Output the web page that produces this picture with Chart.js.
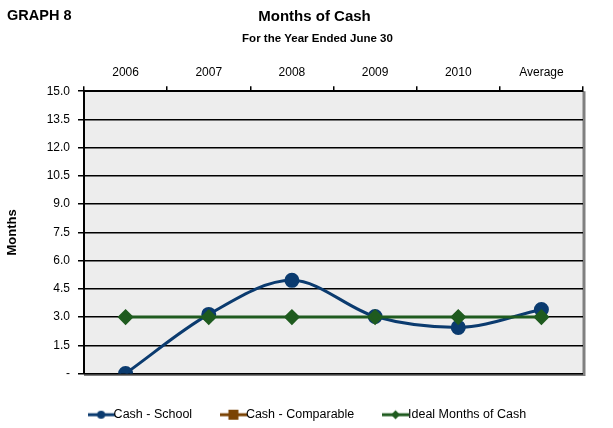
<!DOCTYPE html>
<html lang="en">
<head>
  <meta charset="UTF-8" />
  <title>Months of Cash</title>
  <script src="https://cdn.jsdelivr.net/npm/chart.js@4.4.0/dist/chart.umd.min.js"></script>
  <style>
    body { margin: 0; background: #fff; font-family: 'Liberation Sans', Arial, sans-serif; }
    .wrap { position: relative; width: 613px; height: 428px; }
    .graph-no { position: absolute; left: 7px; top: 7px; font-weight: bold; font-size: 14.5px; }
  </style>
</head>
<body>
  <div class="wrap">
    <canvas id="cashChart" width="613" height="428"></canvas>
    <div class="graph-no">GRAPH 8</div>
  </div>

  <script>
    const years = ['2006', '2007', '2008', '2009', '2010', 'Average'];
    const cashSchool = [0, 3.14, 4.95, 3.03, 2.45, 3.4];
    const cashComparable = [null, null, null, null, null, null];
    const idealMonths = [3, 3, 3, 3, 3, 3];

    const navy = '#0B3B6F';
    const brown = '#7A4304';
    const green = '#1F5B1F';

    // legend icon: short line with the marker in the middle
    function legendIcon(color, shape) {
      const c = document.createElement('canvas');
      c.width = 27; c.height = 12;
      const g = c.getContext('2d');
      g.strokeStyle = color; g.fillStyle = color; g.lineWidth = 3;
      g.beginPath(); g.moveTo(0, 6); g.lineTo(27, 6); g.stroke();
      g.beginPath();
      if (shape === 'circle') g.arc(13.5, 6, 4, 0, Math.PI * 2);
      else if (shape === 'rect') g.rect(8.5, 1, 10, 10);
      else { g.moveTo(13.5, 1.5); g.lineTo(18, 6); g.lineTo(13.5, 10.5); g.lineTo(9, 6); g.closePath(); }
      g.fill();
      return c;
    }

    const plotBg = {
      id: 'plotBg',
      beforeDraw(chart) {
        const { ctx, chartArea: a } = chart;
        ctx.save();
        ctx.fillStyle = '#EDEDED';
        ctx.fillRect(a.left, a.top, a.right - a.left, a.bottom - a.top);
        ctx.strokeStyle = '#808080';
        ctx.lineWidth = 3;
        ctx.beginPath();
        ctx.moveTo(a.right + 1, a.top);
        ctx.lineTo(a.right + 1, a.bottom + 1);
        ctx.lineTo(a.left, a.bottom + 1);
        ctx.stroke();
        ctx.restore();
      }
    };

    // the headings and legend sit a little right of the canvas centre
    const nudge = {
      id: 'nudge',
      afterLayout(chart) {
        chart.boxes.forEach(b => {
          let dx = 0;
          if (b === chart.legend) dx = 18;
          else if (b.options && b.options.text === 'Months of Cash') dx = 22;
          else if (b.options && b.options.text === 'For the Year Ended June 30') dx = 25;
          b.left += dx;
          b.right += dx;
        });
      }
    };

    Chart.defaults.font.family = "'Liberation Sans', Arial, sans-serif";
    Chart.defaults.color = '#000';

    new Chart(document.getElementById('cashChart'), {
      type: 'line',
      data: {
        labels: years,
        datasets: [{
          label: 'Cash - School',
          data: cashSchool,
          borderColor: navy,
          backgroundColor: navy,
          borderWidth: 3,
          pointRadius: 6,
          pointHoverRadius: 6,
          cubicInterpolationMode: 'monotone',
          pointStyle: 'circle',
          order: 2
        }, {
          label: 'Cash - Comparable',
          data: cashComparable,
          borderColor: brown,
          backgroundColor: brown,
          borderWidth: 3,
          pointStyle: 'rect',
          pointRadius: 5
        }, {
          label: 'Ideal Months of Cash',
          data: idealMonths,
          borderColor: green,
          backgroundColor: green,
          borderWidth: 3,
          pointStyle: 'rectRot',
          pointRadius: 6,
          pointHoverRadius: 6,
          order: 1
        }]
      },
      options: {
        responsive: false,
        animation: false,
        layout: { padding: { top: 0, right: 30, bottom: -3, left: 2 } },
        plugins: {
          title: {
            display: true,
            text: 'Months of Cash',
            font: { size: 15, weight: 'bold' },
            padding: { top: 8, bottom: 6 }
          },
          subtitle: {
            display: true,
            text: 'For the Year Ended June 30',
            font: { size: 11.5, weight: 'bold' },
            padding: { bottom: 14 }
          },
          legend: {
            position: 'bottom',
            labels: {
              font: { size: 12.5 },
              usePointStyle: true,
              padding: 35,
              generateLabels(chart) {
                const shapes = ['circle', 'rect', 'diamond'];
                return chart.data.datasets.map((ds, i) => ({
                  text: ds.label,
                  pointStyle: legendIcon(ds.borderColor, shapes[i]),
                  fillStyle: ds.borderColor,
                  strokeStyle: ds.borderColor,
                  lineWidth: 0,
                  datasetIndex: i,
                  hidden: false
                }));
              }
            }
          },
          tooltip: { enabled: false }
        },
        scales: {
          x: {
            position: 'top',
            offset: true,
            grid: { offset: true, drawOnChartArea: false, color: '#000', tickLength: 5, lineWidth: 1.5 },
            border: { color: '#000', width: 2 },
            ticks: { font: { size: 12 }, padding: 6 }
          },
          y: {
            min: 0,
            max: 15,
            afterFit(s) { s.width = 82; },
            ticks: {
              stepSize: 1.5,
              font: { size: 12 },
              padding: 8,
              callback: v => v === 0 ? '-' : v.toFixed(1)
            },
            grid: { color: '#000', lineWidth: 1.5, tickLength: 6 },
            border: { color: '#000', width: 2 },
            title: {
              display: true,
              text: 'Months',
              font: { size: 13, weight: 'bold' },
              padding: { top: 3, bottom: 0 }
            }
          }
        }
      },
      plugins: [plotBg, nudge]
    });
  </script>
</body>
</html>
